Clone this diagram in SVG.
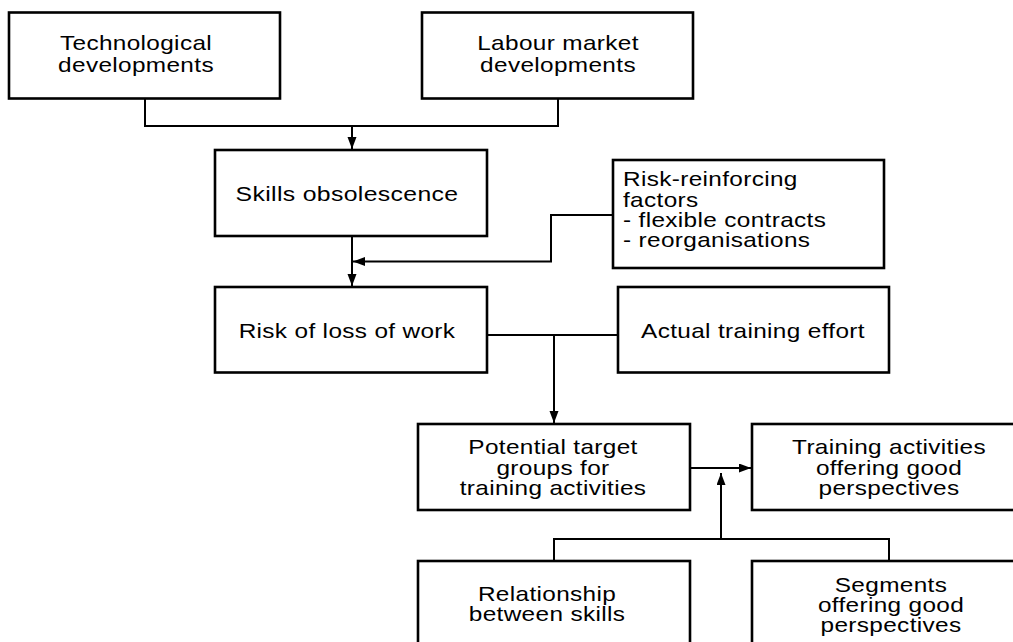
<svg xmlns="http://www.w3.org/2000/svg" width="1013" height="642" viewBox="0 0 1013 642">
  <style>
    .box { fill: #ffffff; stroke: #000000; stroke-width: 2.6; }
    .lbl { font-family: "Liberation Sans", Arial, Helvetica, sans-serif; font-size: 21px; letter-spacing: 0.3px; fill: #000000; }
    .c { text-anchor: middle; }
    .conn { fill: none; stroke: #000000; stroke-width: 2; }
  </style>
  <defs>
    <marker id="arr" markerUnits="userSpaceOnUse" markerWidth="13" markerHeight="10" refX="12" refY="4.5" orient="auto">
      <path d="M0,0 L12,4.5 L0,9 z" fill="#000000"/>
    </marker>
  </defs>
  <rect width="1013" height="642" fill="#ffffff"/>

  <g id="connectors">
    <path class="conn" d="M145,99 V126 H558 V99"/>
    <path class="conn" d="M352,126 V149" marker-end="url(#arr)"/>
    <path class="conn" d="M352,237 V286" marker-end="url(#arr)"/>
    <path class="conn" d="M612,215 H551 V261.5 H353" marker-end="url(#arr)"/>
    <path class="conn" d="M488,335 H617"/>
    <path class="conn" d="M554,335 V423" marker-end="url(#arr)"/>
    <path class="conn" d="M691,468 H751" marker-end="url(#arr)"/>
    <path class="conn" d="M554,560 V539 H889 V560"/>
    <path class="conn" d="M721,539 V473" marker-end="url(#arr)"/>
  </g>

  <g id="node-tech">
    <rect class="box" x="9" y="12.5" width="271" height="86"/>
    <text class="lbl c" transform="translate(136,50) scale(1.16,1)">Technological</text>
    <text class="lbl c" transform="translate(136,72) scale(1.16,1)">developments</text>
  </g>
  <g id="node-labour">
    <rect class="box" x="422" y="12.5" width="271" height="86"/>
    <text class="lbl c" transform="translate(558,50) scale(1.16,1)">Labour market</text>
    <text class="lbl c" transform="translate(558,72) scale(1.16,1)">developments</text>
  </g>
  <g id="node-skills">
    <rect class="box" x="215" y="150" width="272" height="86"/>
    <text class="lbl c" transform="translate(347,201) scale(1.18,1)">Skills obsolescence</text>
  </g>
  <g id="node-riskfactors">
    <rect class="box" x="613" y="160" width="271" height="108"/>
    <text class="lbl" transform="translate(623,186) scale(1.16,1)">Risk-reinforcing</text>
    <text class="lbl" transform="translate(623,206.5) scale(1.16,1)">factors</text>
    <text class="lbl" transform="translate(623,227) scale(1.16,1)">- flexible contracts</text>
    <text class="lbl" transform="translate(623,247) scale(1.16,1)">- reorganisations</text>
  </g>
  <g id="node-risk">
    <rect class="box" x="215" y="287" width="272" height="85.5"/>
    <text class="lbl c" transform="translate(347,338) scale(1.16,1)">Risk of loss of work</text>
  </g>
  <g id="node-actual">
    <rect class="box" x="618" y="287" width="271" height="85.5"/>
    <text class="lbl c" transform="translate(753,338) scale(1.16,1)">Actual training effort</text>
  </g>
  <g id="node-potential">
    <rect class="box" x="418" y="424" width="272" height="86"/>
    <text class="lbl c" transform="translate(553,454) scale(1.16,1)">Potential target</text>
    <text class="lbl c" transform="translate(553,475) scale(1.16,1)">groups for</text>
    <text class="lbl c" transform="translate(553,495) scale(1.16,1)">training activities</text>
  </g>
  <g id="node-training">
    <rect class="box" x="752" y="424" width="280" height="86"/>
    <text class="lbl c" transform="translate(889,454) scale(1.16,1)">Training activities</text>
    <text class="lbl c" transform="translate(889,475) scale(1.16,1)">offering good</text>
    <text class="lbl c" transform="translate(889,495) scale(1.16,1)">perspectives</text>
  </g>
  <g id="node-relationship">
    <rect class="box" x="418" y="561" width="272" height="100"/>
    <text class="lbl c" transform="translate(547,601) scale(1.16,1)">Relationship</text>
    <text class="lbl c" transform="translate(547,621) scale(1.16,1)">between skills</text>
  </g>
  <g id="node-segments">
    <rect class="box" x="752" y="561" width="280" height="100"/>
    <text class="lbl c" transform="translate(891,592) scale(1.16,1)">Segments</text>
    <text class="lbl c" transform="translate(891,612) scale(1.16,1)">offering good</text>
    <text class="lbl c" transform="translate(891,632) scale(1.16,1)">perspectives</text>
  </g>
</svg>
